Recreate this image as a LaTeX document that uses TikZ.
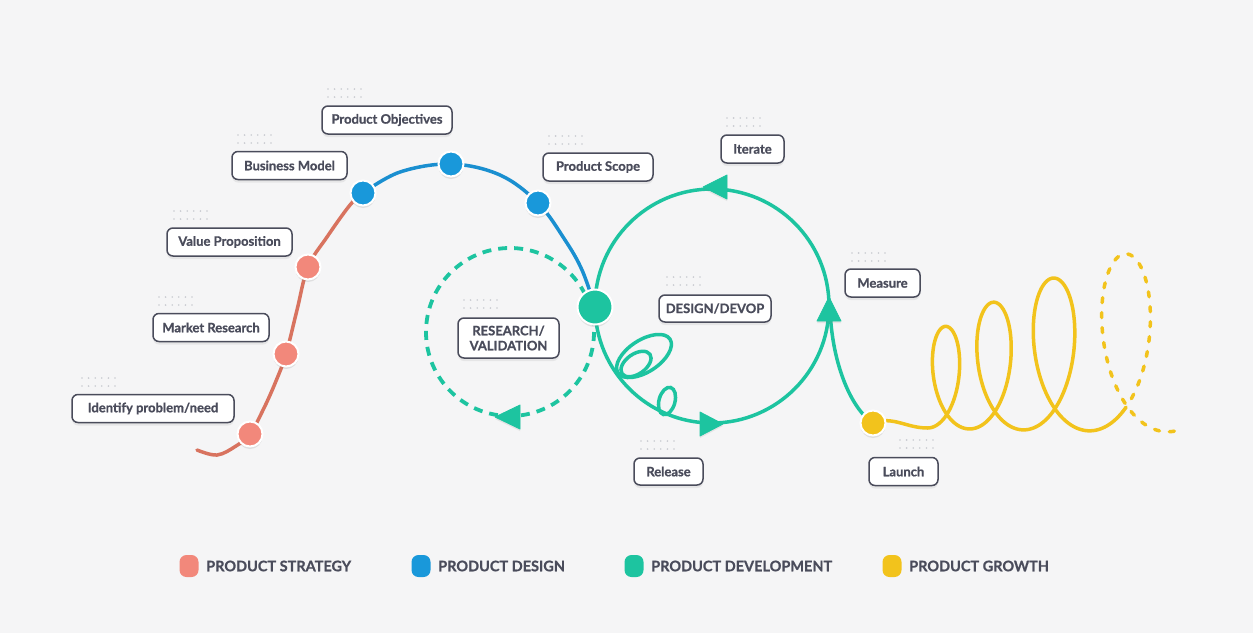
\documentclass[tikz,border=0pt]{standalone}
\usepackage{fontspec}
\setmainfont{Lato}[BoldFeatures={FakeBold=0.8}]
\usetikzlibrary{shadows}
\definecolor{bgc}{HTML}{F5F5F6}
\definecolor{ink}{HTML}{4A4C5B}
\definecolor{redl}{HTML}{D8735F}
\definecolor{redd}{HTML}{F2887B}
\definecolor{bluel}{HTML}{1A8FD0}
\definecolor{blued}{HTML}{1998DA}
\definecolor{tealc}{HTML}{1DC4A0}
\definecolor{yel}{HTML}{F2C31C}
\definecolor{dotg}{HTML}{C9CBD1}
\begin{document}
\begin{tikzpicture}[x=1pt,y=-1pt,
  lbl/.style={draw=ink, line width=1.5pt, fill=white, rounded corners=6pt,
    font=\bfseries\fontsize{13}{15}\selectfont, text=ink, minimum height=28pt,
    inner sep=0pt, align=center,
    drop shadow={shadow xshift=0pt, shadow yshift=-3pt, opacity=0.13}},
  dotn/.style={circle, draw=white, line width=2pt, minimum size=25pt, inner sep=0pt,
    drop shadow={shadow xshift=0pt, shadow yshift=-2.5pt, opacity=0.18}},
  curve/.style={line width=3.5pt, line cap=round},
  arrowtri/.style={fill=tealc, draw=tealc, line width=0.8pt, line join=round,
    drop shadow={shadow xshift=0pt, shadow yshift=-2pt, opacity=0.15}},
  legdot/.style={rounded corners=7pt, minimum width=19pt, minimum height=22pt, inner sep=0pt},
  legtxt/.style={anchor=west, inner sep=0pt, text=ink, font=\bfseries\fontsize{14.5}{16}\selectfont},
  dgrid/.pic={\foreach \i in {0,...,5}{\foreach \j in {0,1}{\fill[dotg] (\i*6.6,\j*8) circle (0.9pt);}}}
]
\useasboundingbox (0,0) rectangle (1253,633);
\fill[bgc] (0,0) rectangle (1253,633);

% dot grids
\pic at (328,89) {dgrid};
\pic at (238,135) {dgrid};
\pic at (174,211) {dgrid};
\pic at (159,297) {dgrid};
\pic at (82,378) {dgrid};
\pic at (549,136) {dgrid};
\pic at (727,118) {dgrid};
\pic at (667,277) {dgrid};
\pic at (464,300) {dgrid};
\pic at (641,441) {dgrid};
\pic at (852,253) {dgrid};
\pic at (900,440) {dgrid};

% coordinates of dots
\coordinate (r1) at (250,434);
\coordinate (r2) at (286,354);
\coordinate (r3) at (308,267);
\coordinate (b1) at (363,193);
\coordinate (b2) at (451,164);
\coordinate (b3) at (538,203);
\coordinate (tc) at (595,307);
\coordinate (yc) at (873,423);
\coordinate (cc) at (712,306);
\coordinate (dc) at (510,332);

% strategy curve
\draw[curve, redl] plot[smooth, tension=0.6] coordinates {(197,450) (217,455) (236,446) (r1) (264,408) (276,381) (r2) (297,310) (r3) (327,237) (350,205) (b1)};
% design curve
\draw[curve, bluel] plot[smooth, tension=0.6] coordinates {(b1) (400,172) (b2) (500,175) (b3) (565,240) (582,270) (tc)};

% dashed research circle
\draw[line width=3.8pt, tealc, dash pattern=on 9pt off 7pt] (dc) circle (84);
% development circle
\draw[curve, tealc] (cc) circle (117);
% loops
\draw[curve, tealc, shift={(644,356)}, rotate=33] (0,0) ellipse [x radius=31, y radius=16];
\draw[curve, tealc, shift={(636,364)}, rotate=35] (0,0) ellipse [x radius=17, y radius=10];
\draw[curve, tealc, shift={(667,401)}, rotate=-15] (0,0) ellipse [x radius=8, y radius=14];
% branch from launch
\draw[curve, tealc] (yc) .. controls (850,408) and (831,360) .. (830,306);

% growth spiral
\draw[curve, yel] (yc) to[out=20,in=180] (927.5,428);
\draw[curve, yel] plot[variable=\t, domain=0:19.55, samples=400, smooth]
  ({927.5+5.73*\t+0.152*\t*\t+(20+\t)*sin(\t r)}, {428+0.15*\t-(44.7+2*\t)*(1-cos(\t r))});
\draw[curve, yel, dash pattern=on 5pt off 10pt] plot[variable=\t, domain=19.55:25.4, samples=200, smooth]
  ({927.5+5.73*\t+0.152*\t*\t+(20+\t)*sin(\t r)}, {428+0.15*\t-(44.7+2*\t)*(1-cos(\t r))});

% arrow heads
\path[arrowtri] (703,187) -- (727,175) -- (727,199) -- cycle;
\path[arrowtri] (723,424) -- (700,412) -- (700,436) -- cycle;
\path[arrowtri] (829,297) -- (817,321) -- (841,321) -- cycle;
\path[arrowtri] (495,417) -- (520,405) -- (520,429) -- cycle;

% dots
\node[dotn, fill=redd] (R1) at (r1) {};
\node[dotn, fill=redd] (R2) at (r2) {};
\node[dotn, fill=redd] (R3) at (r3) {};
\node[dotn, fill=blued] (B1) at (b1) {};
\node[dotn, fill=blued] (B2) at (b2) {};
\node[dotn, fill=blued] (B3) at (b3) {};
\node[dotn, fill=tealc, minimum size=35pt] (TC) at (tc) {};
\node[dotn, fill=yel] (YC) at (yc) {};

% labels
\node[lbl, minimum width=130pt] (po) at (387,120) {Product Objectives};
\node[lbl, minimum width=115pt] (bm) at (289.5,165.5) {Business Model};
\node[lbl, minimum width=125pt] (vp) at (229.5,242) {Value Proposition};
\node[lbl, minimum width=116pt] (mr) at (211,327.5) {Market Research};
\node[lbl, minimum width=162pt] (ip) at (153,408.5) {Identify problem/need};
\node[lbl, minimum width=110pt] (ps) at (598,167) {Product Scope};
\node[lbl, minimum width=63pt] (it) at (752.5,149) {Iterate};
\node[lbl, minimum width=112pt, minimum height=27pt] (dd) at (715,308.5) {DESIGN/DEVOP};
\node[lbl, minimum width=101pt, minimum height=40pt] (rv) at (508.5,338) {RESEARCH/\\VALIDATION};
\node[lbl, minimum width=69pt, minimum height=27pt] (rl) at (668.5,471.5) {Release};
\node[lbl, minimum width=75pt] (ms) at (882.5,283) {Measure};
\node[lbl, minimum width=69pt] (ln) at (903.5,471.5) {Launch};

% legend
\node[legdot, fill=redd] (k1) at (189,566) {};
\node[legtxt] (t1) at (206,566) {PRODUCT STRATEGY};
\node[legdot, fill=blued] (k2) at (421,566) {};
\node[legtxt] (t2) at (438,566) {PRODUCT DESIGN};
\node[legdot, fill=tealc] (k3) at (634,566) {};
\node[legtxt] (t3) at (651,566) {PRODUCT DEVELOPMENT};
\node[legdot, fill=yel] (k4) at (892,566) {};
\node[legtxt] (t4) at (909,566) {PRODUCT GROWTH};
\end{tikzpicture}
\end{document}
